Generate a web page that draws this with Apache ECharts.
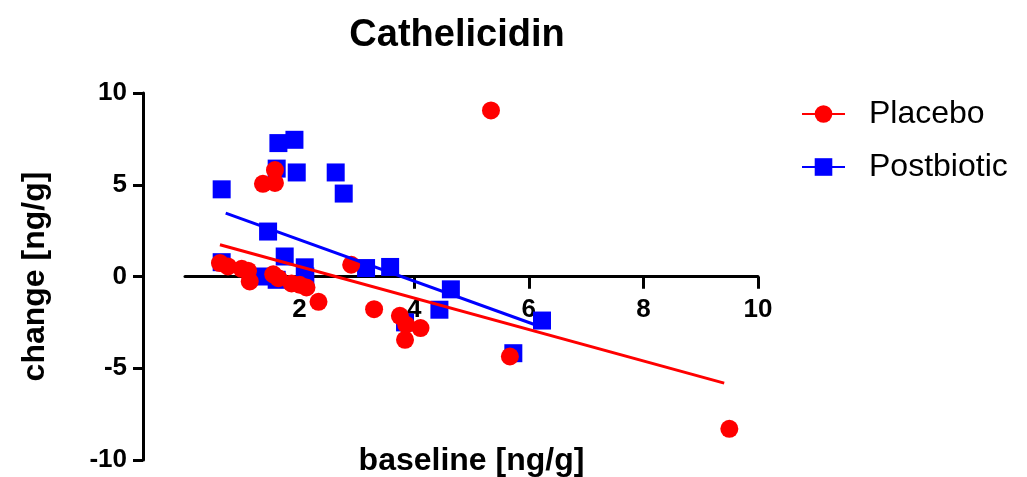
<!DOCTYPE html>
<html>
<head>
<meta charset="utf-8">
<script src="https://cdn.jsdelivr.net/npm/echarts@6/dist/echarts.min.js"></script>
<style>
html,body{margin:0;padding:0;background:#fff;}
#chart{width:1027px;height:477px;}
</style>
</head>
<body>
<div id="chart"></div>
<script>
// Placebo points [baseline, change]
const placeboPoints = [
  [0.61, 0.73], [0.75, 0.55], [0.99, 0.42], [1.10, 0.32], [1.13, -0.27],
  [1.36, 5.05], [1.57, 5.10], [1.57, 5.80], [1.54, 0.12], [1.63, -0.09],
  [1.86, -0.38], [2.00, -0.45], [2.12, -0.60], [2.33, -1.38], [2.90, 0.64],
  [3.30, -1.78], [3.75, -2.14], [3.86, -2.63], [4.11, -2.81], [3.84, -3.45],
  [5.34, 9.05], [5.67, -4.36], [9.50, -8.30]
];
// Postbiotic points [baseline, change]
const postbioticPoints = [
  [0.64, 4.75], [0.64, 0.78], [1.33, 0.00], [1.45, 2.45], [1.60, 5.88],
  [1.63, 7.27], [1.91, 7.45], [1.95, 5.67], [2.63, 5.67], [2.77, 4.52],
  [1.74, 1.09], [1.60, -0.18], [2.09, 0.50], [2.10, 0.00], [3.16, 0.46],
  [3.58, 0.52], [4.64, -0.70], [4.44, -1.81], [3.84, -2.50], [5.73, -4.18],
  [6.23, -2.40]
];
// Regression line endpoints
const placeboFit = [[0.61, 1.73], [9.41, -5.81]];
const postbioticFit = [[0.71, 3.45], [6.11, -2.63]];

const xTicks = [2, 4, 6, 8, 10];
const yTicks = [-10, -5, 0, 5, 10];

const FONT = 'Liberation Sans, Arial, sans-serif';
const RED = '#ff0000';
const BLUE = '#0000ff';

const chart = echarts.init(document.getElementById('chart'), null, {renderer: 'canvas'});
chart.setOption({
  animation: false,
  backgroundColor: '#ffffff',
  title: {
    text: 'Cathelicidin',
    left: 452,
    top: 12,
    textAlign: 'center',
    textStyle: {fontFamily: FONT, fontSize: 38, fontWeight: 'bold', color: '#000'}
  },
  legend: {
    orient: 'vertical',
    left: 796,
    top: 93,
    itemWidth: 43,
    itemHeight: 22,
    itemGap: 21,
    data: ['Placebo', 'Postbiotic'],
    textStyle: {fontFamily: FONT, fontSize: 32, color: '#000', padding: [0, 0, 0, 19]}
  },
  grid: {left: 185, right: 269, top: 93, bottom: 17, containLabel: false, outerBoundsMode: 'none'},
  xAxis: {
    type: 'value',
    min: 0, max: 10, interval: 2,
    position: 'bottom',
    offset: -183.3,
    name: 'baseline [ng/g]',
    nameLocation: 'middle',
    nameGap: 168,
    nameTextStyle: {fontFamily: FONT, fontSize: 32, fontWeight: 'bold', color: '#000'},
    axisLine: {show: true, onZero: false, lineStyle: {color: '#000', width: 3}},
    axisTick: {show: true, inside: false, length: 12, lineStyle: {color: '#000', width: 3}, customValues: xTicks},
    axisLabel: {
      show: true, margin: 20, customValues: xTicks,
      formatter: v => (v === 0 ? '' : String(v)),
      fontFamily: FONT, fontSize: 26, fontWeight: 'bold', color: '#000'
    },
    splitLine: {show: false}
  },
  yAxis: {
    type: 'value',
    min: -10, max: 10, interval: 5,
    offset: 42,
    name: 'change [ng/g]',
    nameLocation: 'middle',
    nameGap: 92,
    nameRotate: 90,
    nameTextStyle: {fontFamily: FONT, fontSize: 32, fontWeight: 'bold', color: '#000'},
    axisLine: {show: true, onZero: false, lineStyle: {color: '#000', width: 3}},
    axisTick: {show: true, inside: false, length: 10, lineStyle: {color: '#000', width: 3}, customValues: yTicks},
    axisLabel: {
      show: true, margin: 16, customValues: yTicks,
      fontFamily: FONT, fontSize: 26, fontWeight: 'bold', color: '#000'
    },
    splitLine: {show: false}
  },
  series: [
    {
      name: 'Placebo', type: 'line', data: placeboFit,
      symbol: 'circle', symbolSize: 17, showSymbol: false,
      lineStyle: {color: RED, width: 3}, itemStyle: {color: RED}, z: 3
    },
    {
      name: 'Postbiotic', type: 'line', data: postbioticFit,
      symbol: 'rect', symbolSize: 17, showSymbol: false,
      lineStyle: {color: BLUE, width: 3}, itemStyle: {color: BLUE}, z: 3
    },
    {
      name: 'Postbiotic', type: 'scatter', data: postbioticPoints,
      symbol: 'rect', symbolSize: 18, itemStyle: {color: BLUE, opacity: 1}, z: 2
    },
    {
      name: 'Placebo', type: 'scatter', data: placeboPoints,
      symbol: 'circle', symbolSize: 18, itemStyle: {color: RED, opacity: 1}, z: 2
    }
  ]
});
</script>
</body>
</html>
